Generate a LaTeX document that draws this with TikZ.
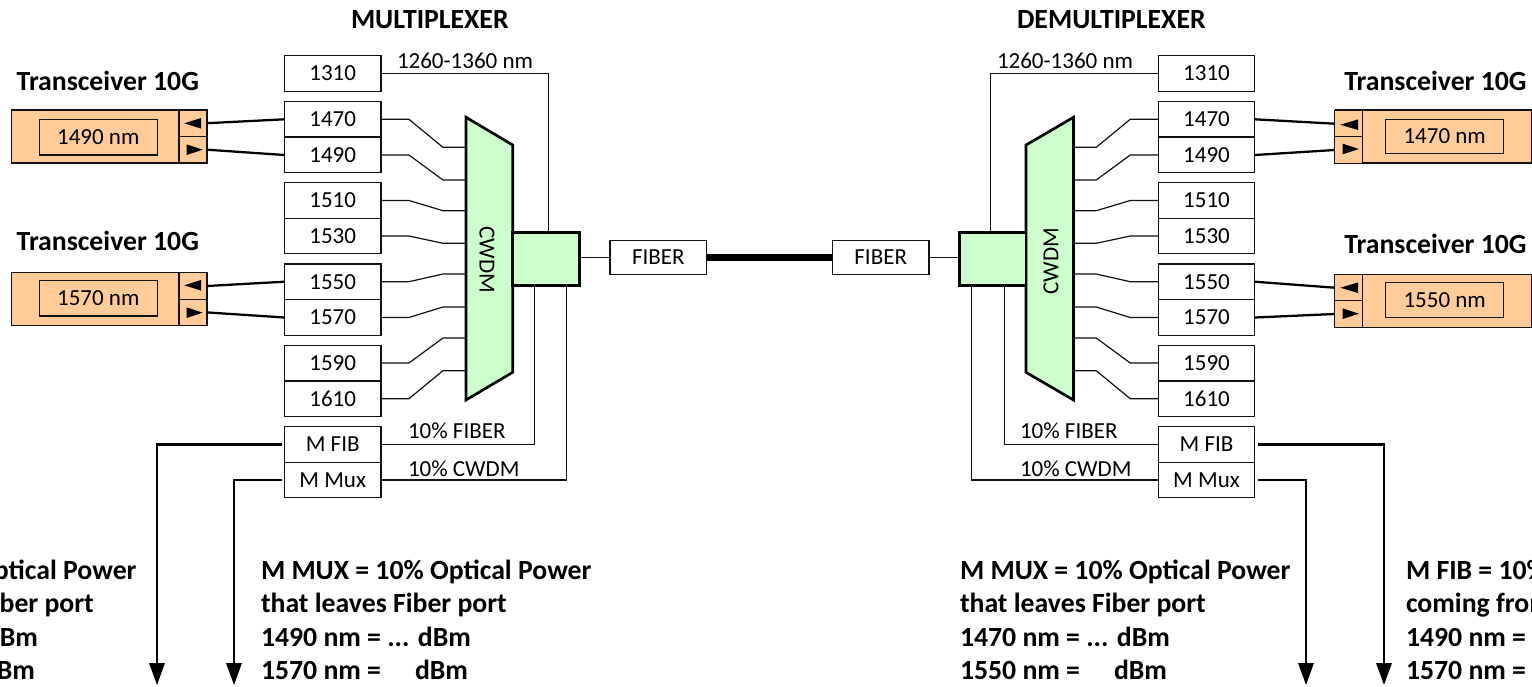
\documentclass[tikz,border=0pt]{standalone}
\usepackage{fontspec}
\setsansfont{Carlito}
\usetikzlibrary{arrows.meta,calc}
\definecolor{WdmInk}{HTML}{111111}
\definecolor{WdmGreen}{HTML}{CCFFCC}
\definecolor{WdmPeach}{HTML}{FFCC99}
\tikzset{
  every node/.style={font=\sffamily\fontsize{17.25}{25}\selectfont, text=black, inner sep=0pt, outer sep=0pt},
  chan/.style={draw=WdmInk, line width=0.9pt, fill=white, minimum width=72.4pt, minimum height=26.6pt},
  fiberbox/.style={draw=WdmInk, line width=0.9pt, fill=white, minimum width=72.4pt, minimum height=25.5pt},
  peach/.style={draw=WdmInk, line width=0.9pt, fill=WdmPeach},
  muxbody/.style={draw=black, line width=2pt, fill=WdmGreen},
  wire/.style={draw=WdmInk, line width=0.9pt},
  patch/.style={draw=black, line width=1.7pt},
  trunk/.style={draw=black, line width=5.6pt},
  tap/.style={-{Triangle[length=16.5pt,width=11.5pt]}, draw=black, line width=1.7pt, shorten <=2.2pt},
  heading/.style={font=\sffamily\bfseries\fontsize{20.8}{25}\selectfont, anchor=base west},
  note/.style={font=\sffamily\bfseries\fontsize{20.8}{25}\selectfont, anchor=north west, align=left},
  wirelabel/.style={anchor=base west},
}
\begin{document}
\begin{tikzpicture}[x=0.75pt,y=-0.75pt]
  \useasboundingbox (0,0) rectangle (1532,686);
  \node[heading] (muxtitle) at (351,28) {MULTIPLEXER};
  \node[heading] (demtitle) at (1017,28) {DEMULTIPLEXER};

  % Multiplexer side
  \node[heading] (xcvtitleA) at (16.7,90) {Transceiver 10G};
  \node[heading] (xcvtitleB) at (16.7,250.7) {Transceiver 10G};
  \node[peach, minimum width=147pt, minimum height=39.8pt] (xcvA) at (109.2,136.5) {};
  \node[peach, minimum width=88.5pt, minimum height=26.6pt] (xcvAname) at (98.3,137.2) {1490 nm};
  \node[peach, minimum width=21pt, minimum height=19.9pt] (xcvAtx) at (193,123.2) {};
  \node[peach, minimum width=21pt, minimum height=19.9pt] (xcvArx) at (193,149.7) {};
  \fill (184.3,123.3) -- (201,118) -- (201,128.6) -- cycle;
  \fill (202.7,149.7) -- (186.7,144.4) -- (186.7,155) -- cycle;
  \node[peach, minimum width=147pt, minimum height=39.8pt] (xcvB) at (109.2,299.2) {};
  \node[peach, minimum width=88.5pt, minimum height=26.6pt] (xcvBname) at (98.3,298.3) {1570 nm};
  \node[peach, minimum width=21pt, minimum height=19.9pt] (xcvBtx) at (193,286) {};
  \node[peach, minimum width=21pt, minimum height=19.9pt] (xcvBrx) at (193,312.4) {};
  \fill (184.3,285.3) -- (201,280) -- (201,290.6) -- cycle;
  \fill (202.7,312.7) -- (186.7,307.4) -- (186.7,318) -- cycle;

  \node[chan] (mux1310) at (332.7,73.6) {1310};
  \node[chan] (mux1470) at (332.7,119.3) {1470};
  \node[chan] (mux1490) at (332.7,155) {1490};
  \node[chan] (mux1510) at (332.7,200.5) {1510};
  \node[chan] (mux1530) at (332.7,236) {1530};
  \node[chan] (mux1550) at (332.7,281.7) {1550};
  \node[chan] (mux1570) at (332.7,317.5) {1570};
  \node[chan] (mux1590) at (332.7,363) {1590};
  \node[chan] (mux1610) at (332.7,398.7) {1610};
  \node[chan] (muxfib) at (332.7,444.5) {M FIB};
  \node[chan] (muxmon) at (332.7,480) {M Mux};

  \draw[patch] (xcvAtx.east) -- (mux1470.west);
  \draw[patch] (xcvArx.east) -- (mux1490.west);
  \draw[patch] (xcvBtx.east) -- (mux1550.west);
  \draw[patch] (xcvBrx.east) -- (mux1570.west);

  \draw[muxbody] (466,117.3) -- (512.7,145) -- (512.7,372.3) -- (466,400) -- cycle;
  \node[rotate=-90] (muxname) at (487,260) {CWDM};
  \node[muxbody, minimum width=50pt, minimum height=39.5pt] (muxtap) at (546,259) {};
  \coordinate (muxin1) at (466,147.3);
  \coordinate (muxin2) at (466,180);
  \coordinate (muxin3) at (466,210.7);
  \coordinate (muxin4) at (466,243.3);
  \coordinate (muxin5) at (466,274);
  \coordinate (muxin6) at (466,307);
  \coordinate (muxin7) at (466,338);
  \coordinate (muxin8) at (466,370.7);
  \draw[wire] (mux1470.east) -- ++(28,0) -- ++(34,28) -- (muxin1);
  \draw[wire] (mux1490.east) -- ++(28,0) -- ++(34,25) -- (muxin2);
  \draw[wire] (mux1510.east) -- ++(28,0) -- ++(34,10.2) -- (muxin3);
  \draw[wire] (mux1530.east) -- ++(28,0) -- ++(34,7.3) -- (muxin4);
  \draw[wire] (mux1550.east) -- ++(28,0) -- ++(34,-7.7) -- (muxin5);
  \draw[wire] (mux1570.east) -- ++(28,0) -- ++(34,-10.5) -- (muxin6);
  \draw[wire] (mux1590.east) -- ++(28,0) -- ++(34,-25) -- (muxin7);
  \draw[wire] (mux1610.east) -- ++(28,0) -- ++(34,-28) -- (muxin8);
  \draw[wire] (mux1310.east) -| ($(muxtap.north west)+(35.6,0)$);
  \draw[wire] (muxfib.east) -| ($(muxtap.south west)+(21.6,0)$);
  \draw[wire] (muxmon.east) -| ($(muxtap.south west)+(54,0)$);
  \node[wirelabel] (muxlabelA) at (397,68) {1260-1360 nm};
  \node[wirelabel] (muxlabelB) at (408,438) {10\% FIBER};
  \node[wirelabel] (muxlabelC) at (408,476) {10\% CWDM};

  \coordinate (tapfibend) at (157,685);
  \coordinate (tapmonend) at (234,685);
  \draw[tap] (muxfib.west) -| (tapfibend);
  \draw[tap] (muxmon.west) -| (tapmonend);
  \node[note] (noteA) at (-172,560) {M FIB = 10\% Optical Power\\coming from Fiber port\\1490 nm = ... dBm\\1570 nm = \hspace{1em}dBm};
  \node[note] (noteB) at (261,560) {M MUX = 10\% Optical Power\\that leaves Fiber port\\1490 nm = ... dBm\\1570 nm = \hspace{1em}dBm};

  % Fiber link
  \node[fiberbox] (fiberA) at (658.3,257.3) {FIBER};
  \node[fiberbox] (fiberB) at (880.7,257.3) {FIBER};
  \draw[wire] (fiberA.west -| muxtap.east) -- (fiberA.west);
  \draw[trunk] (fiberA.east) -- (fiberB.west);

  % Demultiplexer side
  \node[heading] (xcvtitleC) at (1344.3,90) {Transceiver 10G};
  \node[heading] (xcvtitleD) at (1344.3,253) {Transceiver 10G};
  \node[peach, minimum width=147pt, minimum height=39.8pt] (xcvC) at (1433.3,136.5) {};
  \node[peach, minimum width=88.5pt, minimum height=25.8pt] (xcvCname) at (1444.7,136.5) {1470 nm};
  \node[peach, minimum width=21pt, minimum height=20pt] (xcvCrx) at (1348.7,123.7) {};
  \node[peach, minimum width=21pt, minimum height=19.9pt] (xcvCtx) at (1348.7,150) {};
  \fill (1340.3,124.7) -- (1358,119.4) -- (1358,130) -- cycle;
  \fill (1359,149) -- (1342.7,143.7) -- (1342.7,154.3) -- cycle;
  \node[peach, minimum width=147pt, minimum height=39.8pt] (xcvD) at (1433.3,300.7) {};
  \node[peach, minimum width=88.5pt, minimum height=26.6pt] (xcvDname) at (1444.7,300) {1550 nm};
  \node[peach, minimum width=21pt, minimum height=20pt] (xcvDrx) at (1348.7,287.7) {};
  \node[peach, minimum width=21pt, minimum height=19.9pt] (xcvDtx) at (1348.7,314) {};
  \fill (1340.3,287.7) -- (1358,282.4) -- (1358,293) -- cycle;
  \fill (1359,313.7) -- (1342.7,308.4) -- (1342.7,319) -- cycle;

  \node[chan] (dem1310) at (1206.5,73.6) {1310};
  \node[chan] (dem1470) at (1206.5,119.3) {1470};
  \node[chan] (dem1490) at (1206.5,155) {1490};
  \node[chan] (dem1510) at (1206.5,200.5) {1510};
  \node[chan] (dem1530) at (1206.5,236) {1530};
  \node[chan] (dem1550) at (1206.5,281.7) {1550};
  \node[chan] (dem1570) at (1206.5,317.5) {1570};
  \node[chan] (dem1590) at (1206.5,363) {1590};
  \node[chan] (dem1610) at (1206.5,398.7) {1610};
  \node[chan] (demfib) at (1206.5,444.5) {M FIB};
  \node[chan] (demmon) at (1206.5,480) {M Mux};

  \draw[patch] (xcvCrx.west) -- (dem1470.east);
  \draw[patch] (xcvCtx.west) -- (dem1490.east);
  \draw[patch] (xcvDrx.west) -- (dem1550.east);
  \draw[patch] (xcvDtx.west) -- (dem1570.east);

  \draw[muxbody] (1073.5,117.3) -- (1026,145) -- (1026,372.3) -- (1073.5,400) -- cycle;
  \node[rotate=90] (demname) at (1051,261) {CWDM};
  \node[muxbody, minimum width=50pt, minimum height=39.5pt] (demtap) at (992.5,259) {};
  \coordinate (demin1) at (1073.5,147.3);
  \coordinate (demin2) at (1073.5,180);
  \coordinate (demin3) at (1073.5,210.7);
  \coordinate (demin4) at (1073.5,243.3);
  \coordinate (demin5) at (1073.5,274);
  \coordinate (demin6) at (1073.5,307);
  \coordinate (demin7) at (1073.5,338);
  \coordinate (demin8) at (1073.5,370.7);
  \draw[wire] (dem1470.west) -- ++(-28,0) -- ++(-34,28) -- (demin1);
  \draw[wire] (dem1490.west) -- ++(-28,0) -- ++(-34,25) -- (demin2);
  \draw[wire] (dem1510.west) -- ++(-28,0) -- ++(-34,10.2) -- (demin3);
  \draw[wire] (dem1530.west) -- ++(-28,0) -- ++(-34,7.3) -- (demin4);
  \draw[wire] (dem1550.west) -- ++(-28,0) -- ++(-34,-7.7) -- (demin5);
  \draw[wire] (dem1570.west) -- ++(-28,0) -- ++(-34,-10.5) -- (demin6);
  \draw[wire] (dem1590.west) -- ++(-28,0) -- ++(-34,-25) -- (demin7);
  \draw[wire] (dem1610.west) -- ++(-28,0) -- ++(-34,-28) -- (demin8);
  \draw[wire] (dem1310.west) -| ($(demtap.north east)+(-35.6,0)$);
  \draw[wire] (demfib.west) -| ($(demtap.south east)+(-21.6,0)$);
  \draw[wire] (demmon.west) -| ($(demtap.south east)+(-54,0)$);
  \node[wirelabel] (demlabelA) at (997,68) {1260-1360 nm};
  \node[wirelabel] (demlabelB) at (1020,438) {10\% FIBER};
  \node[wirelabel] (demlabelC) at (1020,476) {10\% CWDM};
  \draw[wire] (fiberB.east) -- (fiberB.east -| demtap.west);

  \coordinate (demfibend) at (1384,685);
  \coordinate (demmonend) at (1306,685);
  \draw[tap] (demfib.east) -| (demfibend);
  \draw[tap] (demmon.east) -| (demmonend);
  \node[note] (noteC) at (960,560) {M MUX = 10\% Optical Power\\that leaves Fiber port\\1470 nm = ... dBm\\1550 nm = \hspace{1em}dBm};
  \node[note] (noteD) at (1406,560) {M FIB = 10\% Optical Power\\coming from Fiber port\\1490 nm = ... dBm\\1570 nm = \hspace{1em}dBm};
\end{tikzpicture}
\end{document}
